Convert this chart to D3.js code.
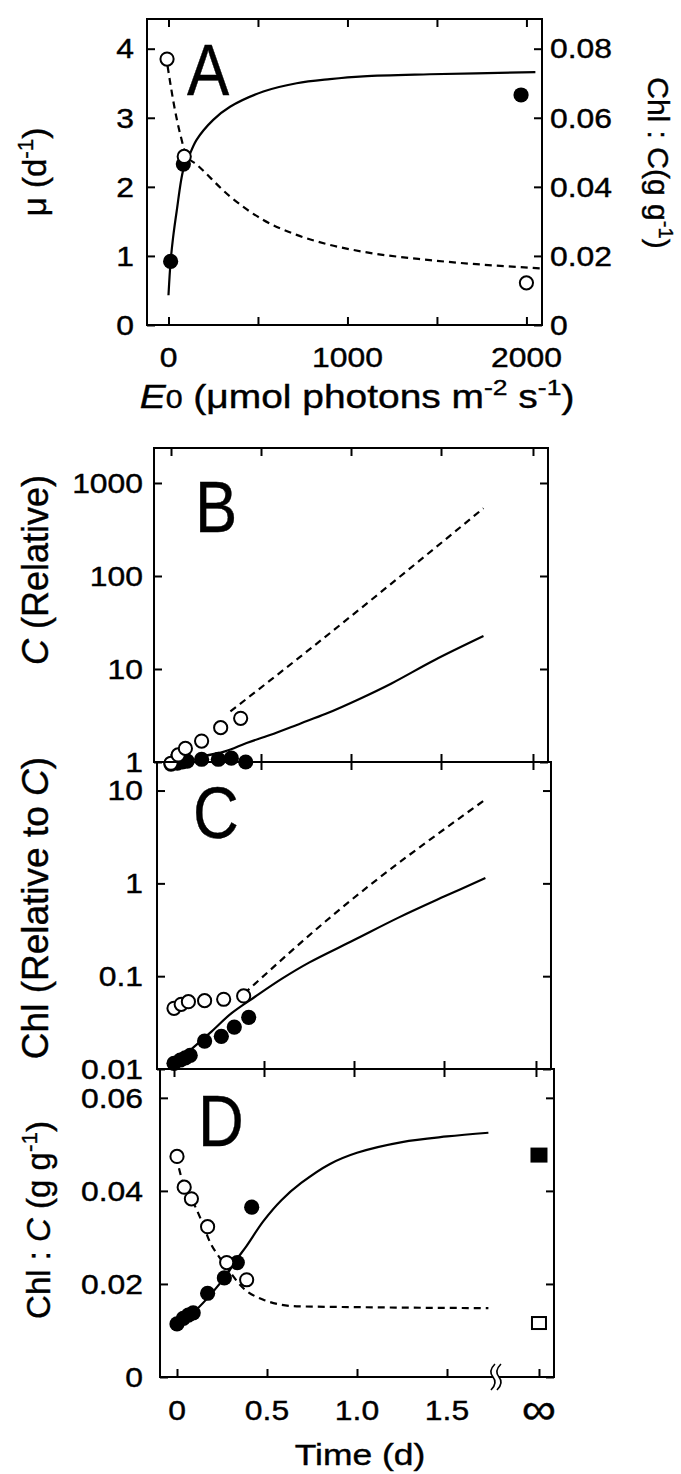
<!DOCTYPE html>
<html>
<head>
<meta charset="utf-8">
<script src="https://cdn.jsdelivr.net/npm/d3@7"></script>
<style>
  body { margin: 0; background: #fff; }
  svg { display: block; }
  text { font-family: "Liberation Sans", Arial, sans-serif; fill: #000; stroke: #000; stroke-width: 0.4px; }
</style>
</head>
<body>
<svg id="fig" width="681" height="1474"></svg>
<script>
// ---------------------------------------------------------------------------
// DATA
// ---------------------------------------------------------------------------

// Panel A: growth rate (filled) and Chl:C (open) against irradiance
var aFillE0 = [12, 83, 1970];
var aFillMu = [0.92, 2.33, 3.33];
var aOpenE0 = [-8, 88, 2000];
var aOpenChl = [0.077, 0.0488, 0.0122];
var aMuLineE0 = [0, 12, 25, 46, 83, 111, 157, 250, 344, 530, 716, 902, 1088, 1460, 2050];
var aMuLine = [0.43, 0.92, 1.25, 1.65, 2.25, 2.42, 2.68, 2.97, 3.16, 3.38, 3.50, 3.56, 3.60, 3.63, 3.66];
var aChlLineE0 = [-5, 36, 64, 102, 157, 344, 530, 716, 902, 1088, 1461, 2076];
var aChlLine = [0.075, 0.0623, 0.0556, 0.049, 0.0465, 0.0372, 0.0304, 0.0261, 0.0232, 0.0212, 0.0188, 0.0164];
var aMuTicks = [0, 1, 2, 3, 4];
var aChlTicks = [0, 0.02, 0.04, 0.06, 0.08];
var aChlTickLabels = ['0', '0.02', '0.04', '0.06', '0.08'];
var aE0Ticks = [0, 500, 1000, 1500, 2000];
var aE0Labels = [0, 1000, 2000];

// Panels B-D: sampling times (d)
var tOpen = [0, 0.04, 0.08, 0.17, 0.276, 0.387];
var tFill = [0, 0.035, 0.063, 0.09, 0.17, 0.263, 0.335, 0.415];
var tTicks = [0, 0.5, 1.0, 1.5];
var tTickLabels = ['0', '0.5', '1.0', '1.5'];
var tInf = 2.011;
var tBreak = 1.772;

// Panel B: C (relative)
var bOpen = [0.97, 1.19, 1.40, 1.68, 2.34, 2.95];
var bFill = [0.95, 0.97, 1.0, 1.02, 1.07, 1.07, 1.1, 1.0];
var bSolidT = [0.17, 0.3, 0.42, 0.55, 0.72, 0.86, 1.05, 1.225, 1.465, 1.736];
var bSolid = [1.15, 1.3, 1.6, 1.95, 2.6, 3.3, 4.8, 7.0, 12.5, 22.6];
var bDashT = [0.33, 0.717, 1.736];
var bDash = [3.5, 13.5, 535];
var bTicks = [1, 10, 100, 1000];

// Panel C: Chl (relative to C)
var cOpen = [0.0451, 0.0498, 0.0531, 0.0545, 0.0564, 0.0612];
var cFill = [0.0115, 0.0125, 0.0132, 0.0140, 0.020, 0.0225, 0.0283, 0.036];
var cSolidT = [0, 0.1, 0.2, 0.32, 0.45, 0.6, 0.75, 1.0, 1.25, 1.5, 1.73];
var cSolid = [0.0115, 0.0166, 0.0245, 0.040, 0.060, 0.094, 0.14, 0.245, 0.43, 0.72, 1.14];
var cDashT = [0.39, 0.88, 1.73];
var cDash = [0.065, 0.45, 8.0];
var cTicks = [0.01, 0.1, 1, 10];
var cTickLabels = ['0.01', '0.1', '1', '10'];

// Panel D: Chl:C
var dOpen = [0.0474, 0.0408, 0.0383, 0.0323, 0.0246, 0.0209];
var dFill = [0.0114, 0.0126, 0.0133, 0.0138, 0.018, 0.0213, 0.0246, 0.0365];
var dSolidT = [0, 0.1, 0.2, 0.28, 0.33, 0.387, 0.48, 0.58, 0.69, 0.85, 1.0, 1.25, 1.5, 1.73];
var dSolid = [0.0112, 0.0142, 0.0183, 0.0222, 0.0252, 0.0282, 0.0335, 0.038, 0.0417, 0.0458, 0.0482, 0.0505, 0.0517, 0.0525];
var dDashT = [-0.005, 0.04, 0.08, 0.137, 0.183, 0.24, 0.294, 0.35, 0.48, 0.665, 1.035, 1.73];
var dDash = [0.0474, 0.041, 0.0383, 0.0335, 0.029, 0.0255, 0.0226, 0.0198, 0.0166, 0.0152, 0.0150, 0.0148];
var dInfFill = 0.0477;
var dInfOpen = 0.0116;
var dTicks = [0, 0.02, 0.04, 0.06];
var dTickLabels = ['0', '0.02', '0.04', '0.06'];

// ---------------------------------------------------------------------------
// HELPERS
// ---------------------------------------------------------------------------

var svg = d3.select('#fig');
var SX = 1.18;      // the scanned figure is a bit wide, stretch horizontal text
var TICK_FS = 27;

function zip(xs, ys) {
    return xs.map(function(x, i) { return [x, ys[i]]; });
}

// text made of parts: [string, kind] kind = '' | 'i' | 'sup' | 'small'
function rich(x, y, parts, o) {
    o = o || {};
    var size = o.size || TICK_FS;
    var tf = 'translate(' + x + ',' + y + ')';
    if (o.rot) tf += ' rotate(' + o.rot + ')';
    if (o.sx) tf += ' scale(' + o.sx + ',1)';
    var t = svg.append('text')
        .attr('transform', tf)
        .attr('text-anchor', o.anchor || 'start')
        .style('font-size', size + 'px');
    if (o.dy) t.attr('dy', o.dy);
    var shift = 0;
    parts.forEach(function(p) {
        var kind = p[1] || '';
        var ts = t.append('tspan').text(p[0]);
        var target = 0;
        if (kind === 'sup') { ts.style('font-size', (size * 0.68) + 'px'); target = -size * 0.38; }
        if (kind === 'small') ts.style('font-size', (size * 0.78) + 'px');
        if (kind === 'i') ts.style('font-style', 'italic');
        if (target !== shift) { ts.attr('dy', target - shift); shift = target; }
    });
    return t;
}

function ticks(axis, scale, vals, tx, ty, len) {
    var g = svg.append('g')
        .attr('transform', 'translate(' + tx + ',' + ty + ')')
        .call(axis(scale).tickValues(vals).tickSize(len).tickSizeOuter(0).tickFormat(''));
    g.select('.domain').remove();
    g.selectAll('text').remove();
    g.selectAll('line').attr('stroke', '#000').attr('stroke-width', 2);
    return g;
}

function box(x0, y0, x1, y1) {
    svg.append('rect')
        .attr('x', x0).attr('y', y0)
        .attr('width', x1 - x0).attr('height', y1 - y0)
        .attr('fill', 'none').attr('stroke', '#000').attr('stroke-width', 2);
}

// solid fits are smoothed with Catmull-Rom, dashed ones kept monotone
function curve(pts, x, y, dashed) {
    var line = d3.line()
        .x(function(d) { return x(d[0]); })
        .y(function(d) { return y(d[1]); })
        .curve(dashed ? d3.curveMonotoneX : d3.curveCatmullRom.alpha(0.5));
    svg.append('path')
        .attr('d', line(pts))
        .attr('fill', 'none')
        .attr('stroke', '#000')
        .attr('stroke-width', 2.2)
        .attr('stroke-dasharray', dashed ? '7,5' : null);
}

function dots(pts, x, y, open) {
    svg.append('g').selectAll('circle')
        .data(pts)
        .join('circle')
        .attr('cx', function(d) { return x(d[0]); })
        .attr('cy', function(d) { return y(d[1]); })
        .attr('r', open ? 6.6 : 7.6)
        .attr('fill', open ? '#fff' : '#000')
        .attr('stroke', '#000')
        .attr('stroke-width', open ? 2 : 0);
}

// ---------------------------------------------------------------------------
// PANEL A
// ---------------------------------------------------------------------------

var xA = d3.scaleLinear().domain([-120, 2087]).range([147, 542]);
var yAmu = d3.scaleLinear().domain([0, 4.43]).range([325, 19]);
var yAchl = d3.scaleLinear().domain([0, 0.0886]).range([325, 19]);

box(147, 19, 542, 325);
ticks(d3.axisLeft, yAmu, aMuTicks, 147, 0, -8);
ticks(d3.axisRight, yAchl, aChlTicks, 542, 0, -8);
ticks(d3.axisTop, xA, aE0Ticks, 0, 19, -8);
ticks(d3.axisBottom, xA, aE0Ticks, 0, 325, -8);

curve(zip(aMuLineE0, aMuLine), xA, yAmu, false);
curve(zip(aChlLineE0, aChlLine), xA, yAchl, true);
dots(zip(aFillE0, aFillMu), xA, yAmu, false);
dots(zip(aOpenE0, aOpenChl), xA, yAchl, true);

aMuTicks.forEach(function(v) {
    rich(134, yAmu(v), [[String(v)]], { anchor: 'end', sx: SX, dy: '0.36em' });
});
aChlTicks.forEach(function(v, i) {
    rich(550, yAchl(v), [[aChlTickLabels[i]]], { anchor: 'start', sx: SX, dy: '0.36em' });
});
aE0Labels.forEach(function(v) {
    rich(xA(v), 367, [[String(v)]], { anchor: 'middle', sx: SX });
});
rich(357, 408, [['E', 'i'], ['0', 'small'], [' (\u03bcmol photons m'], ['-2', 'sup'], [' s'], ['-1', 'sup'], [')']],
    { anchor: 'middle', size: 33, sx: SX });
rich(46, 172, [['\u03bc (d'], ['-1', 'sup'], [')']], { anchor: 'middle', size: 33, rot: -90 });
rich(648, 163, [['Chl : C(g g'], ['-1', 'sup'], [')']], { anchor: 'middle', size: 30, rot: 90 });
rich(187, 95, [['A']], { size: 72, sx: 0.88 });

// ---------------------------------------------------------------------------
// PANELS B-D (shared time axis, each a touch shifted as in the scan)
// ---------------------------------------------------------------------------

function timeScale(x0) {
    return d3.scaleLinear().domain([0, 1]).range([x0, x0 + 180]);
}
var T_MIN = -0.0944, T_MAX = 2.0944;

// B
var xB = timeScale(171);
var yB = d3.scaleLog().domain([1, 2378]).range([762, 448]);
box(xB(T_MIN), 448, xB(T_MAX), 762);
ticks(d3.axisLeft, yB, bTicks, xB(T_MIN), 0, -8);
ticks(d3.axisRight, yB, bTicks, xB(T_MAX), 0, -8);
ticks(d3.axisTop, xB, tTicks.concat([tInf]), 0, 448, -8);
ticks(d3.axisBottom, xB, tTicks.concat([tInf]), 0, 762, -8);
ticks(d3.axisBottom, xB, tTicks.concat([tInf]), 0, 762, 8);
curve(zip(bSolidT, bSolid), xB, yB, false);
curve(zip(bDashT, bDash), xB, yB, true);
dots(zip(tFill, bFill), xB, yB, false);
dots(zip(tOpen, bOpen), xB, yB, true);
bTicks.forEach(function(v) {
    rich(143, yB(v), [[String(v)]], { anchor: 'end', sx: SX, dy: '0.36em' });
});
rich(48, 570, [['C', 'i'], [' (Relative)']], { anchor: 'middle', size: 36, rot: -90 });
rich(195, 532, [['B']], { size: 72, sx: 0.88 });

// C
var xC = timeScale(174);
var yC = d3.scaleLog().domain([0.01, 20.3]).range([1069, 762]);
box(xC(T_MIN), 762, xC(T_MAX), 1069);
ticks(d3.axisLeft, yC, cTicks, xC(T_MIN), 0, -8);
ticks(d3.axisRight, yC, cTicks, xC(T_MAX), 0, -8);
ticks(d3.axisBottom, xC, tTicks.concat([tInf]), 0, 1069, -8);
ticks(d3.axisBottom, xC, tTicks.concat([tInf]), 0, 1069, 8);
curve(zip(cSolidT, cSolid), xC, yC, false);
curve(zip(cDashT, cDash), xC, yC, true);
dots(zip(tFill, cFill), xC, yC, false);
dots(zip(tOpen, cOpen), xC, yC, true);
cTicks.forEach(function(v, i) {
    rich(143, yC(v), [[cTickLabels[i]]], { anchor: 'end', sx: SX, dy: '0.36em' });
});
rich(48, 908, [['Chl (Relative to '], ['C', 'i'], [')']], { anchor: 'middle', size: 37, rot: -90 });
rich(193, 838, [['C']], { size: 72, sx: 0.88 });

// D
var xD = timeScale(177);
var yD = d3.scaleLinear().domain([0, 0.0662]).range([1377, 1069]);
box(xD(T_MIN), 1069, xD(T_MAX), 1377);
ticks(d3.axisLeft, yD, dTicks, xD(T_MIN), 0, -8);
ticks(d3.axisRight, yD, dTicks, xD(T_MAX), 0, -8);
ticks(d3.axisBottom, xD, tTicks.concat([tInf]), 0, 1377, -8);

// axis break
var xb = xD(tBreak);
svg.append('rect').attr('x', xb - 3).attr('y', 1374).attr('width', 6).attr('height', 6).attr('fill', '#fff');
[-3, 3].forEach(function(off) {
    var cx = xb + off;
    svg.append('path')
        .attr('d', 'M' + (cx + 2) + ',1364 Q' + (cx - 5) + ',1371 ' + cx + ',1377 Q' + (cx + 5) + ',1383 ' + (cx - 2) + ',1390')
        .attr('fill', 'none').attr('stroke', '#000').attr('stroke-width', 1.6);
});

curve(zip(dSolidT, dSolid), xD, yD, false);
curve(zip(dDashT, dDash), xD, yD, true);
dots(zip(tFill, dFill), xD, yD, false);
dots(zip(tOpen, dOpen), xD, yD, true);

// steady-state values at infinity
svg.append('rect')
    .attr('x', xD(tInf) - 8.5).attr('y', yD(dInfFill) - 7.5)
    .attr('width', 17).attr('height', 15).attr('fill', '#000');
svg.append('rect')
    .attr('x', xD(tInf) - 7).attr('y', yD(dInfOpen) - 6)
    .attr('width', 14).attr('height', 12)
    .attr('fill', '#fff').attr('stroke', '#000').attr('stroke-width', 2);

dTicks.forEach(function(v, i) {
    rich(143, yD(v), [[dTickLabels[i]]], { anchor: 'end', sx: SX, dy: '0.36em' });
});
tTicks.forEach(function(v, i) {
    rich(xD(v), 1420, [[tTickLabels[i]]], { anchor: 'middle', sx: SX });
});
rich(xD(tInf), 1424, [['\u221e']], { anchor: 'middle', size: 44, sx: 1.1 });
rich(360, 1465, [['Time (d)']], { anchor: 'middle', size: 30, sx: SX });
rich(50, 1220, [['Chl : '], ['C', 'i'], [' (g g'], ['-1', 'sup'], [')']], { anchor: 'middle', size: 33, rot: -90 });
rich(198, 1146, [['D']], { size: 72, sx: 0.88 });
</script>
</body>
</html>
